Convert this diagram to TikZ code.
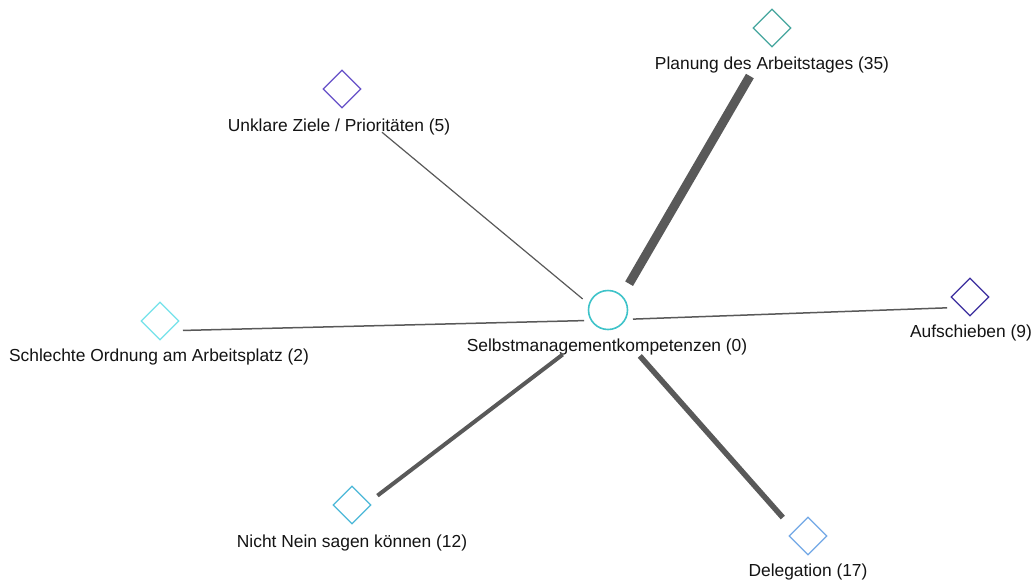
\documentclass[tikz,border=0pt]{standalone}
\usepackage{fontspec}
\setmainfont{Liberation Sans}
\usetikzlibrary{shapes.geometric}

\definecolor{edgegray}{HTML}{595959}
\definecolor{hubcol}{HTML}{3EC3C9}
\definecolor{cPlan}{HTML}{45A69E}
\definecolor{cZiele}{HTML}{6650C8}
\definecolor{cOrd}{HTML}{74E2EA}
\definecolor{cAuf}{HTML}{3B2D9E}
\definecolor{cNein}{HTML}{4BB8D8}
\definecolor{cDel}{HTML}{72A8E6}

\tikzset{
  leaf/.style={diamond, aspect=1, draw=#1, line width=1.3pt, minimum width=38pt, minimum height=38pt, inner sep=0pt},
  hub/.style={circle, draw=hubcol, line width=1.6pt, minimum size=39pt, inner sep=0pt},
  lbl/.style={font=\fontsize{17.4}{20}\selectfont, text=black!92, inner sep=0pt, text height=12.5pt, text depth=3.5pt},
  link/.style={draw=edgegray, line width=#1},
}

\begin{document}
\begin{tikzpicture}[x=1pt, y=-1pt]
\useasboundingbox[fill=white] (0,0) rectangle (1035,579);

% shapes
\node[hub] (hub) at (608,310) {};
\node[leaf=cPlan]  (plan)  at (772,28)  {};
\node[leaf=cZiele] (ziele) at (342,89)  {};
\node[leaf=cOrd]   (ord)   at (160,321) {};
\node[leaf=cAuf]   (auf)   at (970,297) {};
\node[leaf=cNein]  (nein)  at (352,505) {};
\node[leaf=cDel]   (del)   at (808,536) {};

% captions
\node[lbl] (hubT)   at (607,347) {Selbstmanagementkompetenzen (0)};
\node[lbl] (planT)  at (772,65)  {Planung des Arbeitstages (35)};
\node[lbl] (zieleT) at (339,127) {Unklare Ziele / Prioritäten (5)};
\node[lbl] (ordT)   at (159,357) {Schlechte Ordnung am Arbeitsplatz (2)};
\node[lbl] (aufT)   at (971,333) {Aufschieben (9)};
\node[lbl] (neinT)  at (352,543) {Nicht Nein sagen können (12)};
\node[lbl] (delT)   at (808,572) {Delegation (17)};

% weighted connectors, drawn between points just below the shape centres
\path[link=9pt,   shorten <=42pt, shorten >=44pt] ([yshift=-10pt]hub.center) -- ([yshift=-10pt]plan.center);
\path[link=1.2pt, shorten <=33pt, shorten >=52pt] ([yshift=-10pt]hub.center) -- ([yshift=-10pt]ziele.center);
\path[link=1.5pt, shorten <=24pt, shorten >=23pt] ([yshift=-10pt]hub.center) -- ([yshift=-10pt]ord.center);
\path[link=1.5pt, shorten <=25pt, shorten >=23pt] ([yshift=-10pt]hub.center) -- ([yshift=-10pt]auf.center);
\path[link=4pt,   shorten <=57pt, shorten >=32pt] ([yshift=-10pt]hub.center) -- ([yshift=-10pt]nein.center);
\path[link=5.5pt, shorten <=48pt, shorten >=38pt] ([yshift=-10pt]hub.center) -- ([yshift=-10pt]del.center);
\end{tikzpicture}
\end{document}
